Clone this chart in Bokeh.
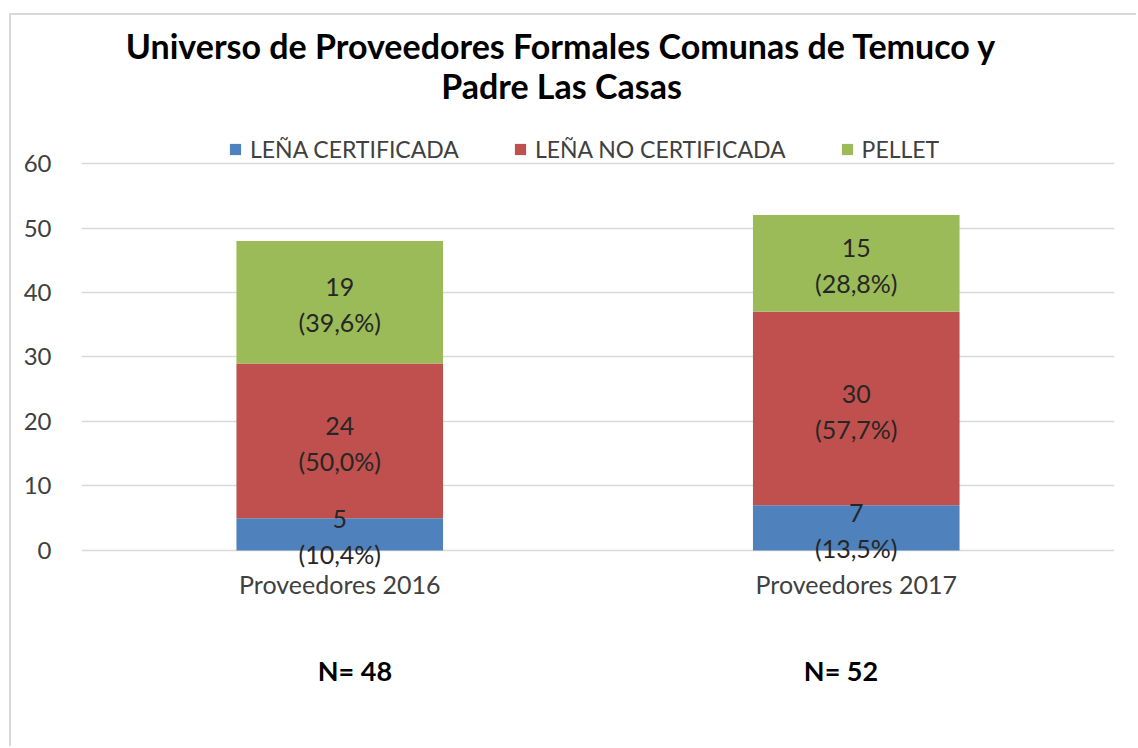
from bokeh.plotting import figure
from bokeh.models import (ColumnDataSource, FactorRange, Range1d, CategoricalAxis, Legend,
                          LegendItem, LabelSet, Label, FixedTicker)
from bokeh.core.properties import value
from bokeh.embed import file_html
from bokeh.resources import INLINE

categories = ["Proveedores 2016", "Proveedores 2017"]
n_labels = ["N= 48", "N= 52"]
series = ["LEÑA CERTIFICADA", "LEÑA NO CERTIFICADA", "PELLET"]
lena_cert = [5, 7]
lena_no_cert = [24, 30]
pellet = [19, 15]
colors = ["#4F81BD", "#C0504D", "#9BBB59"]
y_ticks = [0, 10, 20, 30, 40, 50, 60]
title_lines = ["Universo de Proveedores Formales Comunas de Temuco y", "Padre Las Casas"]

FONT = "Lato"

# y range extends above 60 to hold the legend and title area inside the frame
p = figure(width=1127, height=733, x_range=FactorRange(*categories), y_range=Range1d(-2.636, 82.946),
           output_backend="svg", toolbar_location=None,
           min_border_left=70, min_border_right=24, min_border_top=0, min_border_bottom=181)
p.outline_line_color = None
p.background_fill_color = "white"
p.styles = {"margin-left": "9px", "margin-top": "13px",
            "border-left": "2px solid #D9D9D9", "border-top": "2px solid #D9D9D9"}

src = ColumnDataSource(dict(cat=categories, a=lena_cert, b=lena_no_cert, c=pellet))
rs = p.vbar_stack(["a", "b", "c"], x="cat", width=0.4, color=colors, line_color=None, source=src)

# data labels (value line and percentage line)
lx, ly, lv, lp = [], [], [], []
for i, cat in enumerate(categories):
    vals = [lena_cert[i], lena_no_cert[i], pellet[i]]
    total = sum(vals)
    base = 0
    for v in vals:
        lx.append(cat)
        ly.append(base + v / 2)
        lv.append(str(v))
        lp.append(f"({v / total * 100:.1f}%)".replace(".", ","))
        base += v
lsrc = ColumnDataSource(dict(x=lx, y=ly, v=lv, pc=lp))
for col, off in (("v", 15), ("pc", -20)):
    p.add_layout(LabelSet(x="x", y="y", text=col, source=lsrc, y_offset=off,
                          text_align=value("center"), text_baseline=value("middle"),
                          text_font=value(FONT), text_font_size=value("25px"),
                          text_color=value("#262626")))

# axes
p.yaxis.ticker = FixedTicker(ticks=y_ticks)
p.yaxis.axis_line_color = None
p.yaxis.major_tick_line_color = None
p.yaxis.minor_tick_line_color = None
p.yaxis.major_label_text_font = FONT
p.yaxis.major_label_text_font_size = "24px"
p.yaxis.major_label_text_color = "#404040"
p.yaxis.major_label_standoff = 24

p.xaxis.axis_line_color = None
p.xaxis.major_tick_line_color = None
p.xaxis.major_label_text_font = FONT
p.xaxis.major_label_text_font_size = "25px"
p.xaxis.major_label_text_color = "#404040"
p.xaxis.major_label_standoff = -5

p.extra_x_ranges = {"n": FactorRange(*n_labels, range_padding=0.0627, range_padding_units="absolute")}
ax2 = CategoricalAxis(x_range_name="n", axis_line_color=None, major_tick_line_color=None,
                      major_label_text_font=FONT, major_label_text_font_size="27px",
                      major_label_text_font_style="bold", major_label_text_color="black",
                      major_label_standoff=46)
p.add_layout(ax2, "below")

p.xgrid.grid_line_color = None
p.ygrid.grid_line_color = "#D9D9D9"
p.ygrid.grid_line_width = 1.5

legend = Legend(items=[LegendItem(label=s, renderers=[r]) for s, r in zip(series, rs)],
                orientation="horizontal", location=(147, 404), label_text_font=FONT,
                label_text_font_size="23px", label_text_color="#404040",
                glyph_width=14, glyph_height=14, label_standoff=8, spacing=54,
                border_line_color=None, background_fill_alpha=0, margin=0, padding=5)
p.add_layout(legend)

# two-line chart title
for txt, ty in zip(title_lines, (78.29, 72.09)):
    p.add_layout(Label(x=0.9293, y=ty, text=txt, text_align="center", text_baseline="middle",
                       text_font=FONT, text_font_size="34px", text_font_style="bold",
                       text_color="black"))

open("out.html", "w").write(file_html(p, INLINE))
